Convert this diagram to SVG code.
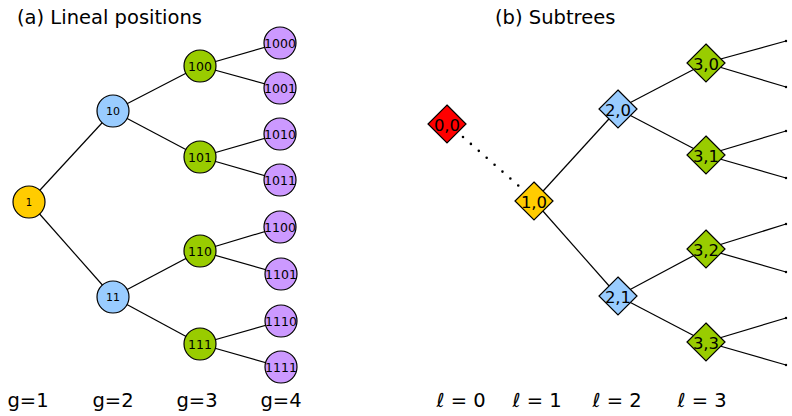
<svg xmlns="http://www.w3.org/2000/svg" width="792" height="416" viewBox="0 0 792 416">
<style>
text{font-family:"DejaVu Sans","Liberation Sans",sans-serif;fill:#000}
.e{stroke:#000;stroke-width:1.2;fill:none}
.n{stroke:#000;stroke-width:1.2}
.y{fill:#FFCC00}.b{fill:#99CCFF}.g{fill:#99CC00}.p{fill:#CC99FF}.r{fill:#FF0000}
.t{text-anchor:middle;dominant-baseline:central}
.lab{font-size:19.5px;text-anchor:middle}
.ttl{font-size:19.5px}
</style>
<defs>
<polygon id="dia" points="0,-19 19,0 0,19 -19,0"/>
</defs>
<rect width="792" height="416" fill="#fff"/>
<text class="ttl" x="17" y="24">(a) Lineal positions</text>
<text class="ttl" x="495" y="24">(b) Subtrees</text>
<g id="connectors">
<line class="e" x1="29" y1="202" x2="113" y2="111"/>
<line class="e" x1="29" y1="202" x2="113" y2="297"/>
<line class="e" x1="113" y1="111" x2="200" y2="66"/>
<line class="e" x1="113" y1="111" x2="200" y2="157"/>
<line class="e" x1="113" y1="297" x2="200" y2="251"/>
<line class="e" x1="113" y1="297" x2="200" y2="344"/>
<line class="e" x1="200" y1="66" x2="280" y2="43"/>
<line class="e" x1="200" y1="66" x2="280" y2="88"/>
<line class="e" x1="200" y1="157" x2="280" y2="134"/>
<line class="e" x1="200" y1="157" x2="280" y2="180"/>
<line class="e" x1="200" y1="251" x2="280" y2="227"/>
<line class="e" x1="200" y1="251" x2="281" y2="274"/>
<line class="e" x1="200" y1="344" x2="281" y2="321"/>
<line class="e" x1="200" y1="344" x2="281" y2="367"/>
<line x1="463" y1="137" x2="520" y2="187" stroke="#000" stroke-width="2.6" stroke-linecap="round" stroke-dasharray="0 10.5"/>
<line class="e" x1="534" y1="201" x2="618" y2="109"/>
<line class="e" x1="534" y1="201" x2="618" y2="296"/>
<line class="e" x1="618" y1="109" x2="706" y2="63"/>
<line class="e" x1="618" y1="109" x2="706" y2="155"/>
<line class="e" x1="618" y1="296" x2="706" y2="249"/>
<line class="e" x1="618" y1="296" x2="706" y2="342"/>
<line class="e" x1="706" y1="63" x2="786" y2="41"/>
<line class="e" x1="706" y1="63" x2="786" y2="87"/>
<line class="e" x1="706" y1="155" x2="786" y2="131"/>
<line class="e" x1="706" y1="155" x2="786" y2="178"/>
<line class="e" x1="706" y1="249" x2="786" y2="224"/>
<line class="e" x1="706" y1="249" x2="786" y2="272"/>
<line class="e" x1="706" y1="342" x2="786" y2="318"/>
<line class="e" x1="706" y1="342" x2="786" y2="365"/>
<g fill="#000">
<circle cx="786" cy="41" r="1.2"/><circle cx="786" cy="87" r="1.2"/>
<circle cx="786" cy="131" r="1.2"/><circle cx="786" cy="178" r="1.2"/>
<circle cx="786" cy="224" r="1.2"/><circle cx="786" cy="272" r="1.2"/>
<circle cx="786" cy="318" r="1.2"/><circle cx="786" cy="365" r="1.2"/>
</g>
</g>
<g id="n1"><circle class="n y" cx="29" cy="202" r="16"/><text class="t" x="29" y="202" font-size="10">1</text></g>
<g id="n10"><circle class="n b" cx="113" cy="111" r="16"/><text class="t" x="113" y="111" font-size="11">10</text></g>
<g id="n11"><circle class="n b" cx="113" cy="297" r="16"/><text class="t" x="113" y="297" font-size="11">11</text></g>
<g id="n100"><circle class="n g" cx="200" cy="66" r="16"/><text class="t" x="200" y="66" font-size="12.5">100</text></g>
<g id="n101"><circle class="n g" cx="200" cy="157" r="16"/><text class="t" x="200" y="157" font-size="12.5">101</text></g>
<g id="n110"><circle class="n g" cx="200" cy="251" r="16"/><text class="t" x="200" y="251" font-size="12.5">110</text></g>
<g id="n111"><circle class="n g" cx="200" cy="344" r="16"/><text class="t" x="200" y="344" font-size="12.5">111</text></g>
<g id="n1000"><circle class="n p" cx="280" cy="43" r="16"/><text class="t" x="280" y="43" font-size="12.5">1000</text></g>
<g id="n1001"><circle class="n p" cx="280" cy="88" r="16"/><text class="t" x="280" y="88" font-size="12.5">1001</text></g>
<g id="n1010"><circle class="n p" cx="280" cy="134" r="16"/><text class="t" x="280" y="134" font-size="12.5">1010</text></g>
<g id="n1011"><circle class="n p" cx="280" cy="180" r="16"/><text class="t" x="280" y="180" font-size="12.5">1011</text></g>
<g id="n1100"><circle class="n p" cx="280" cy="227" r="16"/><text class="t" x="280" y="227" font-size="12.5">1100</text></g>
<g id="n1101"><circle class="n p" cx="281" cy="274" r="16"/><text class="t" x="281" y="274" font-size="12.5">1101</text></g>
<g id="n1110"><circle class="n p" cx="281" cy="321" r="16"/><text class="t" x="281" y="321" font-size="12.5">1110</text></g>
<g id="n1111"><circle class="n p" cx="281" cy="367" r="16"/><text class="t" x="281" y="367" font-size="12.5">1111</text></g>
<g id="s00"><use href="#dia" class="n r" x="447" y="124"/><text class="t" x="447" y="125" font-size="16.5">0,0</text></g>
<g id="s10"><use href="#dia" class="n y" x="534" y="201"/><text class="t" x="534" y="202" font-size="16.5">1,0</text></g>
<g id="s20"><use href="#dia" class="n b" x="618" y="109"/><text class="t" x="618" y="110" font-size="16.5">2,0</text></g>
<g id="s21"><use href="#dia" class="n b" x="618" y="296"/><text class="t" x="618" y="297" font-size="16.5">2,1</text></g>
<g id="s30"><use href="#dia" class="n g" x="706" y="63"/><text class="t" x="706" y="64" font-size="16.5">3,0</text></g>
<g id="s31"><use href="#dia" class="n g" x="706" y="155"/><text class="t" x="706" y="156" font-size="16.5">3,1</text></g>
<g id="s32"><use href="#dia" class="n g" x="706" y="249"/><text class="t" x="706" y="250" font-size="16.5">3,2</text></g>
<g id="s33"><use href="#dia" class="n g" x="706" y="342"/><text class="t" x="706" y="343" font-size="16.5">3,3</text></g>
<g id="labels">
<text class="lab" x="28" y="407">g=1</text>
<text class="lab" x="113" y="407">g=2</text>
<text class="lab" x="197" y="407">g=3</text>
<text class="lab" x="281" y="407">g=4</text>
<text class="lab" x="461" y="407">ℓ = 0</text>
<text class="lab" x="537" y="407">ℓ = 1</text>
<text class="lab" x="617" y="407">ℓ = 2</text>
<text class="lab" x="702" y="407">ℓ = 3</text>
</g>
</svg>
